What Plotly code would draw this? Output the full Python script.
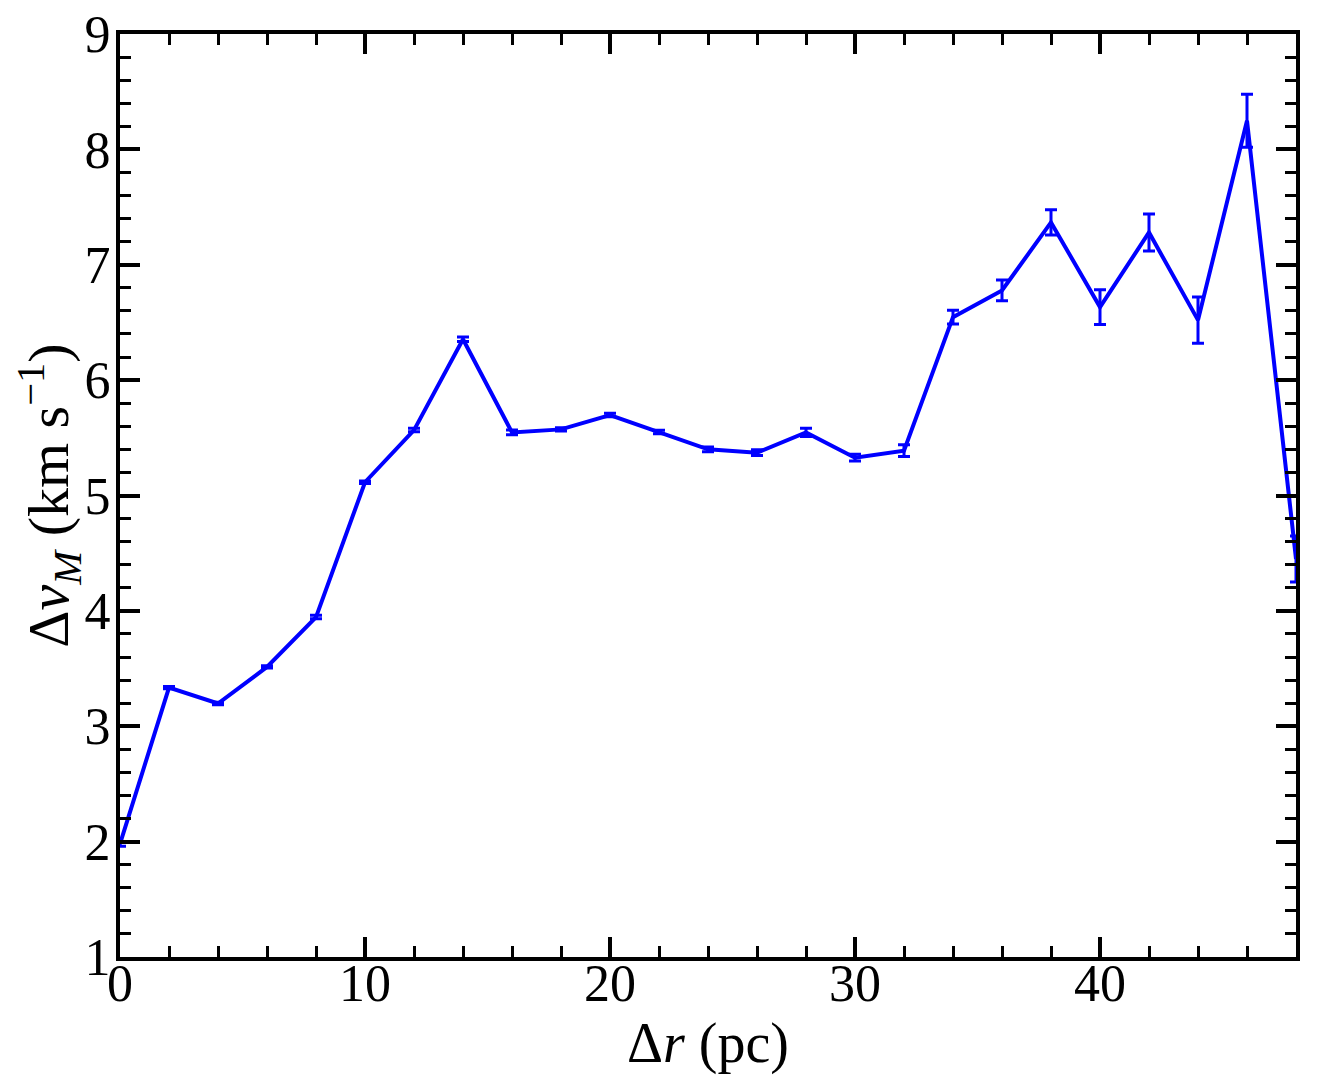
import plotly.graph_objects as go

dr = [0, 2, 4, 6, 8, 10, 12, 14, 16, 18, 20, 22, 24, 26, 28, 30, 32, 34, 36, 38, 40, 42, 44, 46, 48]
dv = [1.98, 3.335, 3.197, 3.514, 3.946, 5.115, 5.567, 6.354, 5.547, 5.573, 5.697, 5.55, 5.40, 5.371,
      5.547, 5.328, 5.389, 6.546, 6.777, 7.367, 6.633, 7.28, 6.52, 8.248, 4.45]
err = [0.02, 0.01, 0.01, 0.01, 0.015, 0.01, 0.015, 0.02, 0.02, 0.015, 0.015, 0.015, 0.02, 0.025,
       0.035, 0.03, 0.05, 0.06, 0.09, 0.11, 0.15, 0.16, 0.2, 0.23, 0.2]
xticks = [0, 10, 20, 30, 40]
yticks = [1, 2, 3, 4, 5, 6, 7, 8, 9]

FONT = "Liberation Serif"
BLUE = "#0000ff"

fig = go.Figure()
fig.add_trace(go.Scatter(
    x=dr, y=dv, mode="lines",
    line=dict(color=BLUE, width=4),
    error_y=dict(type="data", array=err, visible=True, color=BLUE, thickness=3, width=6),
    showlegend=False, cliponaxis=False,
))

axis_common = dict(
    showgrid=False, zeroline=False, showline=True, linecolor="black", linewidth=4,
    ticks="inside", ticklen=20, tickwidth=3.5, tickcolor="black",
    mirror="allticks", automargin=False, ticklabeloverflow="allow",
    tickfont=dict(family=FONT, size=52, color="black"),
)

fig.update_xaxes(
    range=[0, 48], tickvals=xticks, ticktext=[str(t) for t in xticks],
    minor=dict(dtick=2, ticks="inside", ticklen=11, tickwidth=2.5, tickcolor="black", showgrid=False),
    ticklabelstandoff=-22,
    title=dict(text="Δ<i>r</i> (pc)", font=dict(family=FONT, size=56, color="black"), standoff=2),
    **axis_common,
)
fig.update_yaxes(
    range=[1, 9], tickvals=yticks, ticktext=[str(t) for t in yticks],
    minor=dict(dtick=0.2, ticks="inside", ticklen=11, tickwidth=2.5, tickcolor="black", showgrid=False),
    ticklabelstandoff=-5,
    title=dict(text="Δ<i>v<sub>M</sub></i> (km s<sup>−1</sup>)", font=dict(family=FONT, size=58, color="black"), standoff=14),
    **axis_common,
)

fig.update_layout(
    width=1338, height=1087,
    margin=dict(l=112, r=50, t=26, b=138, autoexpand=False),
    plot_bgcolor="white", paper_bgcolor="white",
    font=dict(family=FONT, color="black"),
)

fig.write_html("out.html")
